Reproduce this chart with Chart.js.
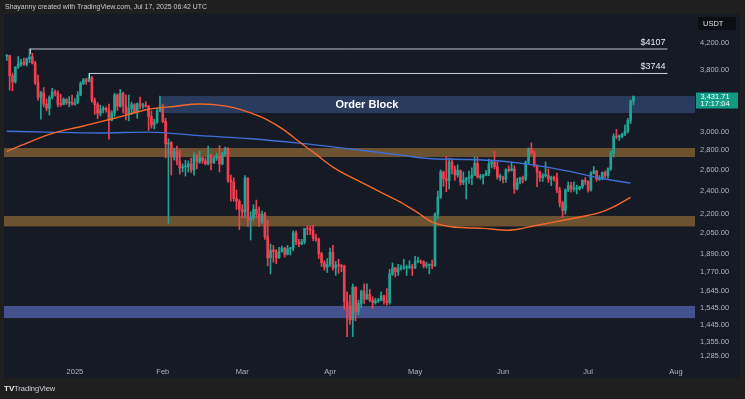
<!DOCTYPE html>
<html><head><meta charset="utf-8">
<script src="https://cdn.jsdelivr.net/npm/chart.js@4.4.1/dist/chart.umd.min.js"></script>
<style>html,body{margin:0;padding:0;background:#1f1f1f;}canvas{display:block;}</style>
</head><body>
<canvas id="c" width="745" height="399" style="width:745px;height:399px"></canvas>
<script>
// ---------- DATA ----------
const firstCandleDate = '2024-12-08';   // daily candles, ETH/USDT
const opens = [
3998,4006,3712,3628,3838,3880,3907,3874,3959,3986,3891,3620,3420,3478,3334,3282,3420,3493,3477,3331,3330,3395,3350,3357,
3332,3353,3451,3605,3656,3635,3686,3380,3327,3220,3265,3282,3265,3137,3225,3450,3308,3473,3310,3215,3280,3328,3240,3340,3310,3320,3305,3180,3080,3114,3250,
3300,3124,2868,2880,2730,2785,2690,2620,2630,2630,2660,2600,2740,2680,2725,2690,2660,2745,2670,2720,2740,2660,2765,2820,2500,2485,2335,2310,
2240,2218,2520,2150,2170,2240,2200,2140,2200,2020,1865,1920,1910,1865,1910,1935,1890,1930,1935,2050,1980,1965,1980,2085,2080,2070,2010,2000,1895,1830,1800,
1820,1905,1795,1815,1810,1805,1580,1555,1475,1670,1520,1570,1645,1595,1625,1590,1575,1585,1590,1615,1585,1575,1755,1795,1770,1790,1795,1795,1800,1800,
1795,1840,1840,1835,1810,1815,1815,1810,2200,2345,2580,2515,2495,2680,2610,2550,2595,2480,2500,2520,2525,2550,2665,2530,2530,2550,2565,2660,2680,2630,2530,
2530,2510,2600,2595,2610,2420,2480,2525,2510,2680,2815,2770,2645,2580,2525,2545,2545,2510,2525,2520,2410,2295,2230,2410,2450,2420,2420,2420,2440,2500,
2490,2410,2570,2590,2510,2520,2575,2545,2610,2770,2950,2945,2945,2975,3010,3135,3375];
const highs = [
4020,4010,3750,3840,3990,3950,3970,3970,4107,4040,3920,3720,3500,3550,3400,3440,3540,3515,3505,3460,3415,3405,3430,3450,
3405,3495,3630,3675,3675,3744,3703,3412,3355,3320,3305,3300,3335,3250,3475,3467,3525,3490,3450,3450,3360,3340,3350,3425,3345,3365,3320,3250,3150,3285,3437,
3335,3160,2925,2895,2825,2845,2800,2660,2695,2690,2720,2775,2760,2790,2730,2720,2845,2760,2735,2770,2850,2780,2835,2830,2550,2525,2410,2325,
2280,2545,2525,2220,2280,2320,2260,2225,2215,2150,1965,1955,1925,1940,1950,1940,1955,1940,2065,2065,2000,2000,2085,2105,2105,2110,2040,2010,1905,1845,1860,
1935,1955,1840,1855,1820,1815,1640,1620,1690,1670,1590,1650,1690,1690,1655,1610,1600,1600,1640,1620,1660,1785,1830,1800,1820,1815,1855,1815,1845,1820,
1875,1870,1850,1845,1835,1820,1850,2210,2400,2600,2590,2740,2720,2715,2640,2650,2600,2580,2525,2590,2620,2735,2730,2560,2555,2595,2710,2700,2790,2680,2560,
2540,2610,2640,2680,2640,2520,2530,2540,2690,2825,2880,2790,2650,2590,2565,2680,2610,2540,2540,2570,2435,2310,2420,2485,2480,2485,2455,2445,2505,2525,
2495,2585,2635,2595,2545,2580,2590,2620,2790,2980,3030,2970,2990,3080,3160,3385,3440];
const lows = [
3935,3515,3505,3610,3815,3845,3860,3850,3900,3880,3590,3380,3150,3300,3250,3200,3400,3440,3300,3305,3325,3330,3300,3320,
3320,3340,3440,3590,3595,3625,3357,3207,3155,3190,3225,3235,2920,3130,3185,3255,3295,3225,3140,3130,3205,3218,3160,3275,3282,3300,3020,3045,3035,3100,3240,
3110,2720,2125,2550,2700,2650,2560,2580,2540,2580,2575,2550,2610,2665,2665,2650,2650,2600,2665,2695,2580,2650,2740,2480,2310,2310,2240,2075,
2170,2170,2100,1995,2150,2170,2100,2120,2000,1810,1755,1835,1825,1860,1905,1870,1885,1885,1915,1960,1945,1960,1965,2035,2035,1990,1985,1860,1805,1780,1765,
1805,1780,1745,1760,1770,1535,1385,1450,1385,1470,1505,1545,1570,1595,1580,1540,1565,1575,1585,1565,1560,1565,1745,1735,1745,1780,1785,1745,1790,1745,
1790,1830,1825,1795,1795,1755,1790,1805,2160,2335,2445,2395,2420,2560,2500,2530,2455,2460,2330,2470,2460,2545,2520,2510,2465,2545,2545,2620,2610,2510,2495,
2475,2480,2580,2590,2380,2410,2465,2475,2495,2660,2760,2630,2440,2490,2490,2530,2480,2450,2495,2385,2260,2170,2200,2395,2390,2400,2375,2410,2425,2460,
2390,2400,2560,2490,2500,2505,2525,2520,2595,2730,2925,2905,2935,2960,2990,3100,3325];
const closes = [
4006,3712,3628,3838,3880,3907,3874,3959,3986,3891,3620,3420,3478,3334,3282,3420,3493,3477,3331,3330,3395,3350,3357,3332,
3353,3451,3605,3656,3635,3686,3380,3327,3220,3265,3282,3265,3137,3225,3450,3308,3473,3310,3215,3280,3328,3240,3340,3310,3320,3305,3180,3080,3114,3250,3300,
3124,2868,2880,2730,2785,2690,2620,2630,2630,2660,2600,2740,2680,2725,2690,2660,2745,2670,2720,2740,2660,2765,2820,2500,2485,2335,2310,2240,
2218,2520,2150,2170,2240,2200,2140,2200,2020,1865,1920,1910,1865,1910,1935,1890,1930,1935,2050,1980,1965,1980,2085,2080,2070,2010,2000,1895,1830,1800,1820,
1905,1795,1815,1810,1805,1580,1555,1475,1670,1520,1570,1645,1595,1625,1590,1575,1585,1590,1615,1585,1575,1755,1795,1770,1790,1795,1795,1800,1800,1795,
1840,1840,1835,1810,1815,1815,1810,2200,2345,2580,2515,2495,2680,2610,2550,2595,2480,2500,2520,2525,2550,2665,2530,2530,2550,2565,2660,2680,2630,2530,2530,
2510,2600,2595,2610,2420,2480,2525,2510,2680,2815,2770,2645,2580,2525,2545,2545,2510,2525,2520,2410,2295,2230,2410,2450,2420,2420,2420,2440,2500,2490,
2410,2570,2590,2510,2520,2575,2545,2610,2770,2950,2945,2945,2975,3010,3135,3375,3431.71];

// moving averages (day = days since 2025-01-01)
const slowMaDays = [-24,-10,9,26,44,62,79,97,115,126,138,150,162,174,185,196];
const slowMaVals = [3010,3000,2990,3000,2960,2925,2877,2815,2750,2712,2705,2690,2648,2588,2522,2474];
const fastMaDays = [-24,-19,-9,3,15,26,35,44,50,56,62,68,74,79,85,91,97,103,109,115,121,126,132,138,144,153,158,162,168,174,180,185,190,196];
const fastMaVals = [2790,2852,2975,3070,3170,3270,3305,3335,3325,3290,3225,3140,3020,2895,2760,2628,2535,2454,2375,2300,2210,2135,2100,2090,2085,2070,2085,2105,2130,2157,2185,2212,2262,2344];

// horizontal levels / zones
const levelPrices = [4107, 3744];
const levelLabels = ['$4107', '$3744'];
const levelStartDays = [-16, 5];
const levelEndDay = 209;
const zoneLows  = [3224, 2730, 2100, 1485];
const zoneHighs = [3437, 2825, 2185, 1555];
const zoneStartDays = [30, -25, -25, -25];
const zoneNames = ['Order Block', '', '', ''];

const monthTickDays = [0, 31, 59, 90, 120, 151, 181, 212];
const monthTickLabels = ['2025', 'Feb', 'Mar', 'Apr', 'May', 'Jun', 'Jul', 'Aug'];
const priceTicks = [4200, 3800, 3400, 3000, 2800, 2600, 2400, 2200, 2050, 1890, 1770, 1645, 1545, 1445, 1355, 1285];
const lastPriceTime = '17:17:04';

// ---------- BUILD ----------
const UP = '#22a494', DOWN = '#f0404f';
const FONT = '"Liberation Sans", Arial, sans-serif';
const dayMs = 86400000;
const firstDay = Math.round((Date.parse(firstCandleDate) - Date.parse('2025-01-01')) / dayMs);
const days = closes.map((_, i) => firstDay + i);
const candleColors = closes.map((c, i) => c >= opens[i] ? UP : DOWN);

const fmt = v => Number(v).toLocaleString('en-US', {minimumFractionDigits: 2, maximumFractionDigits: 2});

const decor = {
  id: 'decor',
  beforeDraw(chart) {
    const ctx = chart.ctx;
    ctx.save();
    ctx.fillStyle = '#1f1f1f';
    ctx.fillRect(0, 0, chart.width, chart.height);
    ctx.fillStyle = '#161a25';
    ctx.fillRect(4, 14, 736, 364);
    ctx.restore();
  },
  beforeDatasetsDraw(chart) {
    const ctx = chart.ctx, xs = chart.scales.x, ys = chart.scales.y, a = chart.chartArea;
    const zoneColors = ['rgba(50,74,116,0.72)', 'rgba(186,134,62,0.52)', 'rgba(186,134,62,0.52)', 'rgba(84,102,180,0.72)'];
    ctx.save();
    zoneLows.forEach((lo, i) => {
      const y1 = ys.getPixelForValue(zoneHighs[i]);
      const y2 = ys.getPixelForValue(lo);
      const x1 = Math.max(a.left, xs.getPixelForValue(zoneStartDays[i]));
      const x2 = a.right + 2;
      ctx.fillStyle = zoneColors[i];
      ctx.fillRect(x1, y1, x2 - x1, y2 - y1);
      if (zoneNames[i]) {
        ctx.fillStyle = '#ffffff';
        ctx.font = 'bold 11px ' + FONT;
        ctx.textAlign = 'center';
        ctx.textBaseline = 'middle';
        ctx.fillText(zoneNames[i], xs.getPixelForValue(103), (y1 + y2) / 2 + 0.5);
      }
    });
    ctx.restore();
  },
  afterDatasetsDraw(chart) {
    const ctx = chart.ctx, xs = chart.scales.x, ys = chart.scales.y;
    ctx.save();
    levelPrices.forEach((p, i) => {
      const y = ys.getPixelForValue(p);
      const xs0 = xs.getPixelForValue(levelStartDays[i]);
      ctx.strokeStyle = 'rgba(220,222,228,0.85)';
      ctx.lineWidth = 1;
      ctx.beginPath();
      ctx.moveTo(Math.round(xs0) + 0.5, y + 5);
      ctx.lineTo(Math.round(xs0) + 0.5, y);
      ctx.stroke();
      ctx.fillStyle = '#e8e9ee';
      ctx.font = '9px ' + FONT;
      ctx.textAlign = 'right';
      ctx.textBaseline = 'bottom';
      ctx.fillText(levelLabels[i], xs.getPixelForValue(levelEndDay) - 2, y - 2);
    });
    ctx.restore();
  },
  afterDraw(chart) {
    const ctx = chart.ctx, ys = chart.scales.y;
    ctx.save();
    // header
    const header = 'Shayanny created with TradingView.com, Jul 17, 2025 06:42 UTC';
    ctx.font = '8px ' + FONT;
    const w = ctx.measureText(header).width;
    const fs = 8 * 202 / w;
    ctx.font = fs.toFixed(2) + 'px ' + FONT;
    ctx.fillStyle = '#c9cbd1';
    ctx.textAlign = 'left';
    ctx.textBaseline = 'middle';
    ctx.fillText(header, 5, 7.5);
    // currency box
    ctx.fillStyle = '#0c0e14';
    ctx.fillRect(698, 17, 38, 13);
    ctx.fillStyle = '#e0e2e8';
    ctx.font = '7.5px ' + FONT;
    ctx.fillText('USDT', 703, 23.5);
    // last price box
    const yp = ys.getPixelForValue(closes[closes.length - 1]);
    ctx.fillStyle = '#119b87';
    ctx.fillRect(696, yp - 4, 42, 16);
    ctx.fillStyle = '#ffffff';
    ctx.font = '7.5px ' + FONT;
    ctx.textAlign = 'center';
    ctx.fillText(fmt(closes[closes.length - 1]), 715, yp);
    ctx.fillText(lastPriceTime, 715, yp + 7.5);
    // footer
    ctx.textAlign = 'left';
    ctx.fillStyle = '#e6e7eb';
    ctx.font = 'bold 8px ' + FONT;
    ctx.fillText('TV', 4, 389);
    ctx.font = '7.5px ' + FONT;
    ctx.fillStyle = '#d1d4dc';
    ctx.fillText('TradingView', 14, 389);
    ctx.restore();
  }
};

new Chart(document.getElementById('c'), {
  type: 'bar',
  data: {
    datasets: [
      {
        type: 'line', data: fastMaDays.map((d, i) => ({x: d, y: fastMaVals[i]})),
        borderColor: '#f5692a', borderWidth: 1.4, pointRadius: 0, cubicInterpolationMode: 'monotone', order: 0
      },
      {
        type: 'line', data: slowMaDays.map((d, i) => ({x: d, y: slowMaVals[i]})),
        borderColor: '#3f6fd8', borderWidth: 1.4, pointRadius: 0, cubicInterpolationMode: 'monotone', order: 0
      },
      {
        type: 'line', data: [{x: levelStartDays[0], y: levelPrices[0]}, {x: levelEndDay, y: levelPrices[0]}],
        borderColor: 'rgba(220,222,228,0.85)', borderWidth: 1, pointRadius: 0, order: 0
      },
      {
        type: 'line', data: [{x: levelStartDays[1], y: levelPrices[1]}, {x: levelEndDay, y: levelPrices[1]}],
        borderColor: 'rgba(230,232,236,0.9)', borderWidth: 1, pointRadius: 0, order: 0
      },
      {
        data: days.map((d, i) => ({x: d, y: [lows[i], highs[i]]})),
        backgroundColor: candleColors, barThickness: 1, grouped: false, order: 2
      },
      {
        data: days.map((d, i) => ({x: d, y: [opens[i], closes[i]]})),
        backgroundColor: candleColors, barThickness: 2, minBarLength: 1, grouped: false, order: 1
      }
    ]
  },
  options: {
    responsive: false,
    animation: false,
    events: [],
    layout: {padding: {left: 4, top: 15, right: 0, bottom: 0}},
    plugins: {legend: {display: false}, tooltip: {enabled: false}},
    scales: {
      x: {
        type: 'linear', min: -25, max: 218, offset: false,
        grid: {display: false, drawTicks: false}, border: {display: false},
        afterBuildTicks: s => { s.ticks = monthTickDays.map(v => ({value: v})); },
        afterFit: s => { s.height = 37; },
        ticks: {
          autoSkip: false, maxRotation: 0, padding: 5, color: '#b2b5be',
          font: {size: 7.5, family: FONT},
          callback: v => monthTickLabels[monthTickDays.indexOf(v)]
        }
      },
      y: {
        type: 'logarithmic', position: 'right', min: 1258, max: 4670,
        grid: {display: false, drawTicks: false}, border: {display: false},
        afterBuildTicks: s => { s.ticks = priceTicks.map(v => ({value: v})); },
        afterFit: s => { s.width = 52; },
        ticks: {
          autoSkip: false, padding: 7, crossAlign: 'near', color: '#b2b5be',
          font: {size: 7.5, family: FONT},
          callback: v => fmt(v)
        }
      }
    }
  },
  plugins: [decor]
});
</script>
</body></html>
